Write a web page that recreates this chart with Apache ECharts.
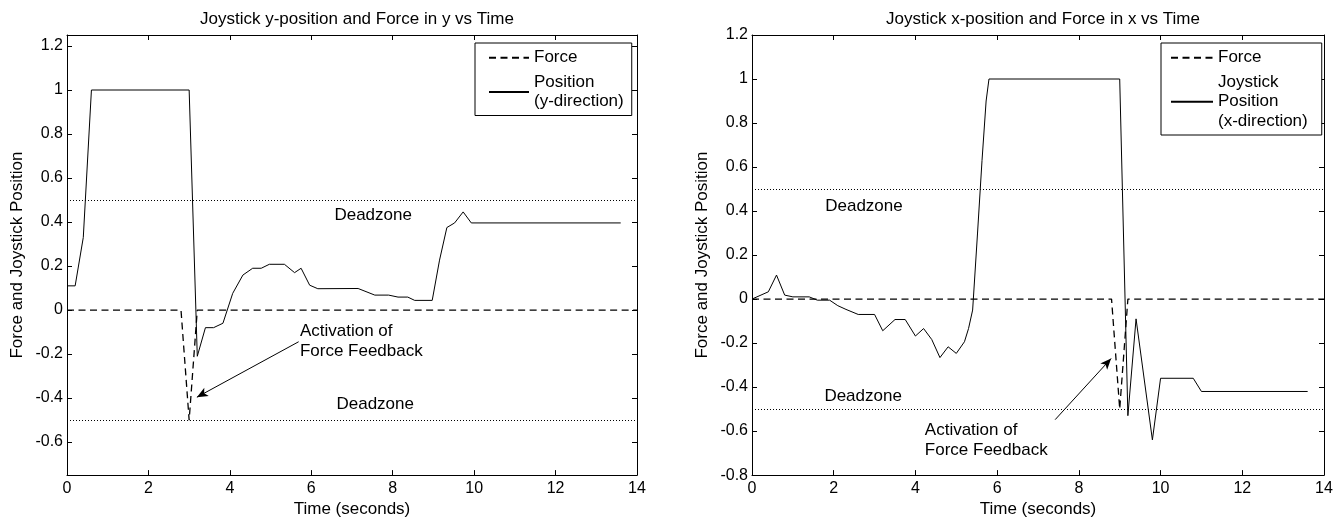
<!DOCTYPE html>
<html>
<head>
<meta charset="utf-8">
<script src="https://cdn.jsdelivr.net/npm/echarts@6/dist/echarts.min.js"></script>
<style>
    html, body { margin: 0; padding: 0; background: #fff; }
    #chart { width: 1341px; height: 523px; }
</style>
</head>
<body>
<div id="chart"></div>
<script>
// left plot: y-direction
const yPosTime = [0, 0.2, 0.4, 0.6, 3.0, 3.2, 3.4, 3.6, 3.83, 4.07, 4.32, 4.56, 4.77, 4.97, 5.34, 5.59, 5.75, 5.96, 6.16, 7.15, 7.56, 7.9, 8.13, 8.37, 8.54, 8.97, 9.15, 9.33, 9.52, 9.73, 9.93, 13.6];
const yPosValue = [0.11, 0.11, 0.33, 1.0, 1.0, -0.21, -0.08, -0.08, -0.06, 0.076, 0.159, 0.19, 0.19, 0.208, 0.208, 0.17, 0.19, 0.113, 0.097, 0.098, 0.068, 0.068, 0.059, 0.059, 0.044, 0.044, 0.227, 0.375, 0.396, 0.446, 0.396, 0.396];
const yForceTime = [0, 2.8, 3.0, 3.2, 14];
const yForceValue = [0, 0, -0.5, 0, 0];

// right plot: x-direction
const xPosTime = [0, 0.4, 0.6, 0.8, 1.0, 1.4, 1.6, 1.9, 2.1, 2.3, 2.6, 3.0, 3.2, 3.5, 3.75, 4.0, 4.2, 4.4, 4.6, 4.8, 5.0, 5.2, 5.3, 5.4, 5.52, 5.63, 5.73, 5.8, 9.0, 9.2, 9.4, 9.8, 10.0, 10.8, 11.0, 13.6];
const xPosValue = [0, 0.033, 0.109, 0.018, 0.01, 0.01, -0.005, -0.005, -0.03, -0.047, -0.07, -0.07, -0.144, -0.093, -0.093, -0.168, -0.134, -0.184, -0.266, -0.217, -0.247, -0.194, -0.134, -0.05, 0.3, 0.63, 0.9, 1.0, 1.0, -0.53, -0.09, -0.64, -0.36, -0.36, -0.42, -0.42];
const xForceTime = [0, 8.8, 9.0, 9.2, 14];
const xForceValue = [0, 0, -0.5, 0, 0];

const deadzone = [0.5, -0.5];
const xTicks = [0, 14, 2];
const leftYTicks = [-0.6, -0.4, -0.2, 0, 0.2, 0.4, 0.6, 0.8, 1, 1.2];
const leftYRange = [-0.75, 1.25];
const rightYRange = [-0.8, 1.2, 0.2];

const titles = ['Joystick y-position and Force in y vs Time', 'Joystick x-position and Force in x vs Time'];
const leftLabels = [['Deadzone', 7.52, 0.43], ['Deadzone', 7.57, -0.43]];
const rightLabels = [['Deadzone', 2.74, 0.423], ['Deadzone', 2.72, -0.44]];
const activationText = 'Activation of\nForce Feedback';
const leftActivation = [5.72, -0.144];
const rightActivation = [4.23, -0.64];
const leftArrow = [[5.69, -0.144], [3.19, -0.396]];
const rightArrow = [[7.42, -0.548], [8.79, -0.27]];

const FONT = '"Liberation Sans", Arial, sans-serif';
const BLACK = '#000';

function pairs(ts, vs) {
    return ts.map((t, i) => [t, vs[i]]);
}

function markPoints(labels, activation) {
    const data = labels.map((l) => ({
        coord: [l[1], l[2]],
        label: { formatter: l[0], position: 'inside' },
    }));
    data.push({
        coord: activation,
        label: { formatter: activationText, position: 'right', distance: 0, align: 'left' },
    });
    return {
        symbol: 'circle',
        symbolSize: 0,
        silent: true,
        label: { show: true, color: BLACK, fontSize: 17, fontFamily: FONT, lineHeight: 20 },
        data: data,
    };
}

function markLines(arrow) {
    return {
        silent: true,
        symbol: ['none', 'none'],
        label: { show: false },
        lineStyle: { color: BLACK, width: 1, type: [1, 2] },
        data: [
            { yAxis: deadzone[0] },
            { yAxis: deadzone[1] },
            [
                { coord: arrow[0], symbol: 'none', lineStyle: { type: 'solid', width: 1 } },
                { coord: arrow[1], symbol: 'arrow', symbolSize: [7, 11] },
            ],
        ],
    };
}

function xAxes(gridIndex) {
    const base = {
        type: 'value', gridIndex: gridIndex, min: xTicks[0], max: xTicks[1], interval: xTicks[2],
        axisLine: { show: true, onZero: false, lineStyle: { color: BLACK, width: 1 } },
        axisTick: { show: true, inside: true, length: 5, lineStyle: { color: BLACK } },
        splitLine: { show: false },
    };
    return [
        Object.assign({}, base, {
            position: 'bottom',
            name: 'Time (seconds)', nameLocation: 'middle', nameGap: 25,
            nameTextStyle: { color: BLACK, fontSize: 17, fontFamily: FONT },
            axisLabel: { color: BLACK, fontSize: 16, fontFamily: FONT, margin: 5 },
        }),
        Object.assign({}, base, { position: 'top', axisLabel: { show: false } }),
    ];
}

function yAxes(gridIndex, range, customTicks) {
    const tick = { show: true, inside: true, length: 5, lineStyle: { color: BLACK } };
    const label = { color: BLACK, fontSize: 16, fontFamily: FONT, margin: 4 };
    if (customTicks) {
        tick.customValues = customTicks;
        label.customValues = customTicks;
    }
    const base = {
        type: 'value', gridIndex: gridIndex, min: range[0], max: range[1],
        axisLine: { show: true, onZero: false, lineStyle: { color: BLACK, width: 1 } },
        axisTick: tick,
        splitLine: { show: false },
    };
    if (range[2]) base.interval = range[2];
    return [
        Object.assign({}, base, {
            position: 'left',
            name: 'Force and Joystick Position', nameLocation: 'middle', nameGap: 41,
            nameTextStyle: { color: BLACK, fontSize: 17, fontFamily: FONT },
            axisLabel: label,
        }),
        Object.assign({}, base, { position: 'right', axisLabel: { show: false } }),
    ];
}

function legendBox(left, padding, itemWidth, names, texts) {
    return {
        left: left, top: 43, orient: 'vertical', align: 'left',
        padding: padding, itemGap: 5, itemWidth: itemWidth, itemHeight: 14,
        backgroundColor: '#fff', borderColor: BLACK, borderWidth: 1, borderRadius: 0,
        selectedMode: false,
        itemStyle: { opacity: 0 },
        data: names,
        formatter: (name) => texts[names.indexOf(name)],
        textStyle: { color: BLACK, fontSize: 17, fontFamily: FONT, lineHeight: 19.5 },
    };
}

const lineSeries = (name, xi, yi, data, dashed) => ({
    name: name, type: 'line', xAxisIndex: xi, yAxisIndex: yi,
    data: data, symbol: 'none', showSymbol: false,
    lineStyle: { color: BLACK, width: dashed ? 1.3 : 1, type: dashed ? [7, 4.5] : 'solid' },
    itemStyle: { color: BLACK },
});

const option = {
    animation: false,
    backgroundColor: '#fff',
    title: [
        { text: titles[0], left: 352, top: 6, textAlign: 'center', textStyle: { color: BLACK, fontSize: 17, fontWeight: 'normal', fontFamily: FONT } },
        { text: titles[1], left: 1038, top: 6, textAlign: 'center', textStyle: { color: BLACK, fontSize: 17, fontWeight: 'normal', fontFamily: FONT } },
    ],
    grid: [
        { left: 67, right: 704, top: 35, bottom: 47 },
        { left: 752, right: 17, top: 35, bottom: 47 },
    ],
    legend: [
        legendBox(475, [5, 8, 4, 13], 40, ['Force', 'Position (y-direction)'], ['Force', 'Position\n(y-direction)']),
        legendBox(1161, [5, 14, 4, 9], 42, ['Force', 'Joystick Position (x-direction)'], ['Force', 'Joystick\nPosition\n(x-direction)']),
    ],
    xAxis: xAxes(0).concat(xAxes(1)),
    yAxis: yAxes(0, leftYRange, leftYTicks).concat(yAxes(1, rightYRange, null)),
    series: [
        Object.assign(lineSeries('Force', 0, 0, pairs(yForceTime, yForceValue), true), {
            markLine: markLines(leftArrow),
            markPoint: markPoints(leftLabels, leftActivation),
        }),
        lineSeries('Position (y-direction)', 0, 0, pairs(yPosTime, yPosValue), false),
        Object.assign(lineSeries('Force', 2, 2, pairs(xForceTime, xForceValue), true), {
            markLine: markLines(rightArrow),
            markPoint: markPoints(rightLabels, rightActivation),
        }),
        lineSeries('Joystick Position (x-direction)', 2, 2, pairs(xPosTime, xPosValue), false),
    ],
};

const chart = echarts.init(document.getElementById('chart'));
chart.setOption(option);
</script>
</body>
</html>
